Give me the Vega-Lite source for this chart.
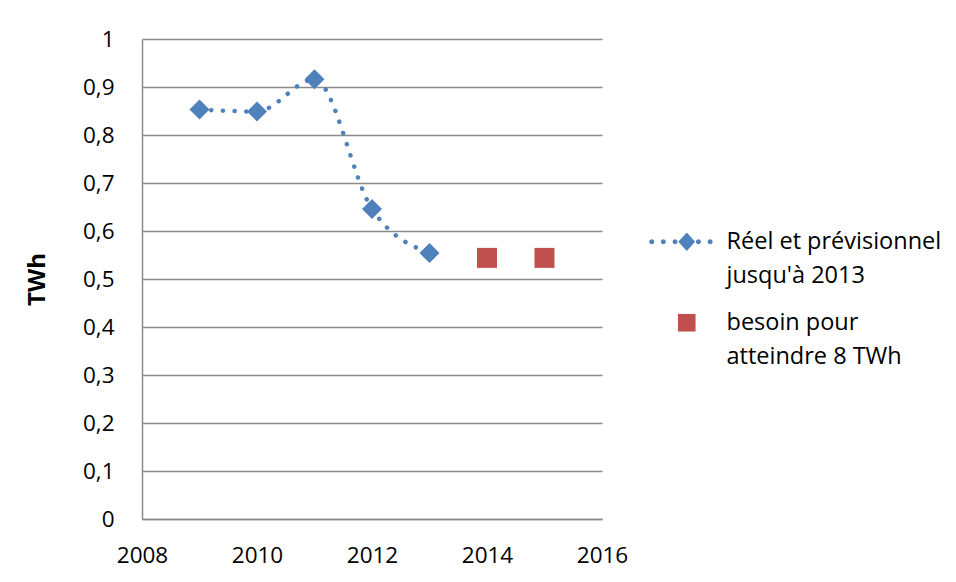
{
  "$schema": "https://vega.github.io/schema/vega-lite/v6.json",
  "width": 460,
  "height": 480,
  "autosize": {"type": "none"},
  "padding": {"left": 142, "top": 39, "right": 354, "bottom": 63},
  "background": "white",
  "config": {
    "view": {"stroke": null},
    "font": "Open Sans",
    "axis": {
      "labelFont": "Open Sans",
      "titleFont": "Open Sans",
      "labelFontSize": 22.5,
      "labelColor": "#000000",
      "titleColor": "#000000",
      "domainColor": "#8a8a8a",
      "domainWidth": 1.5,
      "gridColor": "#8a8a8a",
      "gridWidth": 1.5,
      "gridOpacity": 1,
      "ticks": false,
      "tickSize": 0
    }
  },
  "data": {
    "values": [
      {"year": 2009, "value": 0.853, "series": "Réel et prévisionnel jusqu'à 2013"},
      {"year": 2010, "value": 0.849, "series": "Réel et prévisionnel jusqu'à 2013"},
      {"year": 2011, "value": 0.916, "series": "Réel et prévisionnel jusqu'à 2013"},
      {"year": 2012, "value": 0.646, "series": "Réel et prévisionnel jusqu'à 2013"},
      {"year": 2013, "value": 0.554, "series": "Réel et prévisionnel jusqu'à 2013"},
      {"year": 2014, "value": 0.544, "series": "besoin pour atteindre 8 TWh"},
      {"year": 2015, "value": 0.544, "series": "besoin pour atteindre 8 TWh"}
    ]
  },
  "encoding": {
    "x": {
      "field": "year",
      "type": "quantitative",
      "scale": {"domain": [2008, 2016], "nice": false, "zero": false},
      "axis": {
        "values": [2008, 2010, 2012, 2014, 2016],
        "format": "d",
        "grid": false,
        "title": null,
        "labelPadding": 25,
        "labelFlush": false,
        "labelOverlap": false
      }
    },
    "y": {
      "field": "value",
      "type": "quantitative",
      "scale": {"domain": [0, 1], "nice": false},
      "axis": {
        "values": [0, 0.1, 0.2, 0.3, 0.4, 0.5, 0.6, 0.7, 0.8, 0.9, 1],
        "labelExpr": "replace(format(datum.value, '.1~f'), '.', ',')",
        "grid": true,
        "title": "TWh",
        "titleFontSize": 24,
        "titleFontWeight": "bold",
        "titlePadding": 33,
        "labelPadding": 28,
        "labelFlush": false,
        "labelOverlap": false
      }
    }
  },
  "layer": [
    {
      "transform": [{"filter": "datum.series != 'besoin pour atteindre 8 TWh'"}],
      "mark": {
        "type": "line",
        "color": "#4F81BD",
        "strokeWidth": 4.5,
        "strokeDash": [0.1, 11.6],
        "strokeCap": "round",
        "interpolate": "monotone"
      }
    },
    {
      "transform": [{"filter": "datum.series != 'besoin pour atteindre 8 TWh'"}],
      "mark": {"type": "point", "shape": "diamond", "filled": true, "size": 400, "color": "#4F81BD", "opacity": 1}
    },
    {
      "transform": [{"filter": "datum.series == 'besoin pour atteindre 8 TWh'"}],
      "mark": {"type": "point", "shape": "square", "filled": true, "size": 400, "color": "#C0504D", "opacity": 1}
    },
    {
      "transform": [{"filter": "false"}],
      "mark": {"type": "point", "filled": true, "opacity": 1},
      "encoding": {
        "x": null,
        "y": null,
        "color": {
          "field": "series",
          "type": "nominal",
          "scale": {
            "domain": ["Réel et prévisionnel jusqu'à 2013", "besoin pour atteindre 8 TWh"],
            "range": ["#4F81BD", "#C0504D"]
          },
          "legend": {
            "title": null,
            "orient": "none",
            "legendX": 533,
            "legendY": 191,
            "padding": 0,
            "symbolSize": 256,
            "symbolStrokeWidth": 0,
            "labelFont": "Open Sans",
            "labelFontSize": 23.5,
            "labelColor": "#000000",
            "labelBaseline": "middle",
            "labelOffset": 28,
            "labelLimit": 400,
            "rowPadding": 22,
            "labelExpr": "datum.label == 'besoin pour atteindre 8 TWh' ? ['besoin pour', 'atteindre 8 TWh'] : ['Réel et prévisionnel', \"jusqu'à 2013\"]",
            "encoding": {"labels": {"lineHeight": {"value": 34}}}
          }
        },
        "shape": {
          "field": "series",
          "type": "nominal",
          "scale": {
            "domain": ["Réel et prévisionnel jusqu'à 2013", "besoin pour atteindre 8 TWh"],
            "range": [
              "M-1.05,0L0,-1.15L1.05,0L0,1.15Z M-4.685,0a0.31,0.31 0 1,0 0.62,0a0.31,0.31 0 1,0 -0.62,0Z M-3.235,0a0.31,0.31 0 1,0 0.62,0a0.31,0.31 0 1,0 -0.62,0Z M-1.7725,0a0.31,0.31 0 1,0 0.62,0a0.31,0.31 0 1,0 -0.62,0Z M1.1525,0a0.31,0.31 0 1,0 0.62,0a0.31,0.31 0 1,0 -0.62,0Z M2.615,0a0.31,0.31 0 1,0 0.62,0a0.31,0.31 0 1,0 -0.62,0Z",
              "M-1.1,-1.1H1.1V1.1H-1.1Z"
            ]
          },
          "legend": {
            "title": null,
            "orient": "none",
            "legendX": 533,
            "legendY": 191,
            "padding": 0,
            "symbolSize": 256,
            "symbolStrokeWidth": 0,
            "labelFont": "Open Sans",
            "labelFontSize": 23.5,
            "labelColor": "#000000",
            "labelBaseline": "middle",
            "labelOffset": 28,
            "labelLimit": 400,
            "rowPadding": 22,
            "labelExpr": "datum.label == 'besoin pour atteindre 8 TWh' ? ['besoin pour', 'atteindre 8 TWh'] : ['Réel et prévisionnel', \"jusqu'à 2013\"]",
            "encoding": {"labels": {"lineHeight": {"value": 34}}}
          }
        }
      }
    }
  ]
}
